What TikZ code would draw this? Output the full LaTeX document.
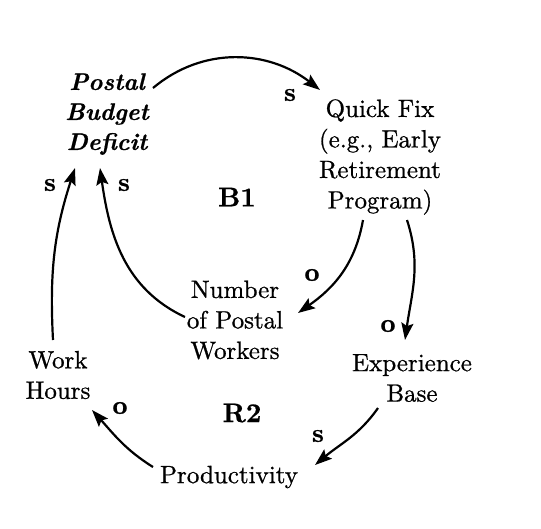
\documentclass[tikz,border=0pt]{standalone}
\usepackage{fontspec}
\setmainfont{lmroman10-regular.otf}[BoldFont=lmroman10-bold.otf,ItalicFont=lmroman10-italic.otf,BoldItalicFont=lmroman10-bolditalic.otf,FakeBold=0.8]
\usetikzlibrary{arrows.meta}
\begin{document}
\begin{tikzpicture}[x=1pt,y=1pt,
  var/.style={align=center,inner sep=0pt,font=\fontsize{25}{30.5}\selectfont},
  loopname/.style={inner sep=0pt,font=\fontsize{27}{30}\selectfont\bfseries},
  pol/.style={inner sep=0pt,font=\fontsize{26}{30}\selectfont\bfseries},
  link/.style={line width=2.2pt,-{Stealth[length=17pt,width=12pt,inset=3pt]}}]
\useasboundingbox (0,0) rectangle (541,-528);
\node[var,font=\fontsize{24}{30}\selectfont\bfseries\itshape] (pbd) at (107,-114) {Postal\\Budget\\Deficit};
\node[var] (qf) at (380,-157) {Quick Fix\\(e.g., Early\\Retirement\\Program)};
\node[var] (num) at (235,-320) {Number\\of Postal\\Workers};
\node[var] (wh) at (58,-375) {Work\\Hours};
\node[var] (exp) at (412,-378) {Experience\\Base};
\node[var] (prod) at (229,-477) {Productivity};
\node[loopname] (b1) at (237,-197) {B1};
\node[loopname] (r2) at (242,-413) {R2};
\node[pol] (l1) at (290,-95) {s};
\node[pol] (l2) at (312,-275) {o};
\node[pol] (l3) at (388,-326) {o};
\node[pol] (l4) at (318,-436) {s};
\node[pol] (l5) at (120,-408) {o};
\node[pol] (l6) at (50,-185) {s};
\node[pol] (l7) at (124,-185) {s};
\draw[link] ([shift={(46,26)}]pbd.center) to[out=40,in=142] ([shift={(-60,67)}]qf.center);
\draw[link] ([shift={(-17,-63)}]qf.center) to[out=-100,in=35] ([shift={(63,7)}]num.center);
\draw[link] ([shift={(27,-63)}]qf.center) to[out=-72,in=82] ([shift={(-7,38)}]exp.center);
\draw[link] ([shift={(-34,-30)}]exp.center) to[out=-125,in=40] ([shift={(86,12)}]prod.center);
\draw[link] ([shift={(-76,10)}]prod.center) to[out=148,in=-48] ([shift={(34,-35)}]wh.center);
\draw[link] ([shift={(-5,35)}]wh.center) to[out=93,in=-108] ([shift={(-32,-54)}]pbd.center);
\draw[link] ([shift={(-50,3)}]num.center) to[out=155,in=-82] ([shift={(-7,-54)}]pbd.center);
\end{tikzpicture}
\end{document}
